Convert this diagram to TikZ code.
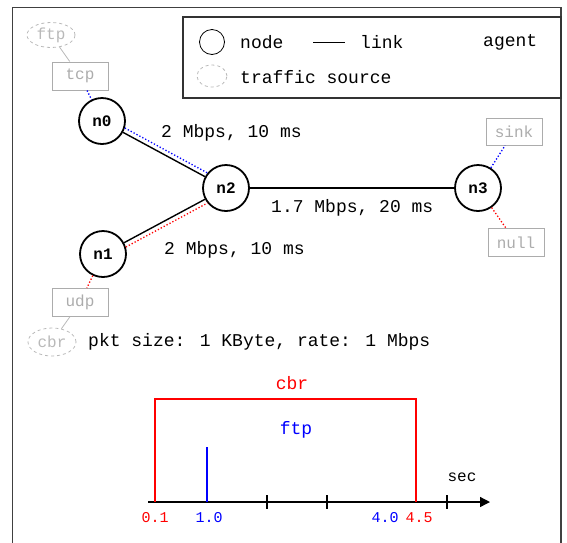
\documentclass[tikz,border=0pt]{standalone}
\usepackage{fontspec}
\newfontfamily\namfont{Liberation Mono}
\usetikzlibrary{arrows.meta,positioning,shapes.geometric}

\begin{document}
\begin{tikzpicture}[x=1pt,y=-1pt,
nd/.style={draw,circle,line width=1.8pt,minimum size=46pt,inner sep=0pt,font=\namfont\fontsize{16}{16}\selectfont\bfseries},
agt/.style={draw=gray!65,line width=1pt,minimum width=56pt,minimum height=28pt,inner sep=0pt,text=gray!65,font=\namfont\fontsize{16}{16}\selectfont},
src/.style={draw=gray!55,dashed,ellipse,line width=0.8pt,minimum width=48pt,minimum height=25pt,inner sep=0pt,text=gray!55,font=\namfont\fontsize{16}{16}\selectfont},
lbl/.style={font=\namfont\fontsize{18}{18}\selectfont,inner sep=0pt,anchor=west},
tm/.style={font=\namfont\fontsize{15}{15}\selectfont,inner sep=0pt},
lnk/.style={line width=1.4pt},
blu/.style={blue,dotted,line width=1.3pt},
rd/.style={red,dotted,line width=1.3pt},
tie/.style={gray!55,line width=0.8pt}]
\useasboundingbox (0,0) rectangle (567,542);
% frame and legend
\draw[line width=1.5pt,black!75] (12.5,560) -- (12.5,7.5) -- (561,7.5) -- (561,560);
\draw[line width=1.5pt,black!80] (183,17) rectangle (561,98);
\node[circle,draw,line width=0.8pt,minimum size=25pt,inner sep=0pt] (lgnode) at (212,42) {};
\node[lbl] (lgnodetxt) at (240,42) {node};
\coordinate (lglinka) at (313,42);
\coordinate (lglinkb) at (345,42);
\draw[line width=1pt] (lglinka)--(lglinkb);
\node[lbl] (lglinktxt) at (360,42) {link};
\node[lbl] (lgagenttxt) at (483,42) {agent};
\node[src,minimum width=30pt,minimum height=22pt] (lgsrc) at (212,76) {};
\node[lbl] (lgsrctxt) at (240,77) {traffic source};
% topology
\node[nd] (n0) at (102,121) {n0};
\node[nd] (n1) at (103,254) {n1};
\node[nd] (n2) at (226,188) {n2};
\node[nd] (n3) at (478,188) {n3};
\node[agt] (tcp) at (80,76) {tcp};
\node[agt,minimum height=27pt] (sink) at (514,131.5) {sink};
\node[agt] (null) at (516,242.5) {null};
\node[agt] (udp) at (80,302.5) {udp};
\node[src] (ftp) at (51,35) {ftp};
\node[src,minimum height=28pt] (cbr) at (52,342) {cbr};
\draw[lnk] (n0)--(n2);
\draw[lnk] (n1)--(n2);
\draw[lnk] (n2)--(n3);
\draw[blu] (n0.-17)--(n2.141);
\draw[rd] (n1.17)--(n2.219);
\draw[blu] (tcp)--(n0);
\draw[rd] (n1)--(udp);
\draw[blu] (n3)--(sink);
\draw[rd] (n3)--(null);
\draw[tie] (ftp)--(tcp);
\draw[tie] (udp)--(cbr);
\node[lbl] (l02) at (161,133) {2 Mbps, 10 ms};
\node[lbl] (l23) at (271,208) {1.7 Mbps, 20 ms};
\node[lbl] (l12) at (164,250) {2 Mbps, 10 ms};
\node[lbl] (pkt) at (88,342) {pkt size: 1 KByte, rate: 1 Mbps};
% time line
\coordinate (axa) at (148,502);
\coordinate (axb) at (490,502);
\draw[line width=1.3pt,-{Triangle[length=10pt,width=10pt]}] (axa)--(axb);
\foreach \t in {2,3,5}
  \draw[line width=1.3pt] ({\t*60+147},495)--({\t*60+147},509);
\draw[red,line width=1.2pt] (155,502) |- (416,399) -- (416,502);
\draw[blue,line width=1.2pt] (207,502) -- (207,447);
\node[font=\namfont\fontsize{18}{18}\selectfont,text=red,inner sep=0pt] (cbrlbl) at (292,383) {cbr};
\node[font=\namfont\fontsize{18}{18}\selectfont,text=blue,inner sep=0pt] (ftplbl) at (296,430) {ftp};
\node[tm,font=\namfont\fontsize{16}{16}\selectfont] (sec) at (462,477) {sec};
\node[tm,text=red] (t01) at (155,518) {0.1};
\node[tm,text=blue] (t10) at (209,518) {1.0};
\node[tm,text=blue] (t40) at (385,518) {4.0};
\node[tm,text=red] (t45) at (419,518) {4.5};
\end{tikzpicture}
\end{document}
